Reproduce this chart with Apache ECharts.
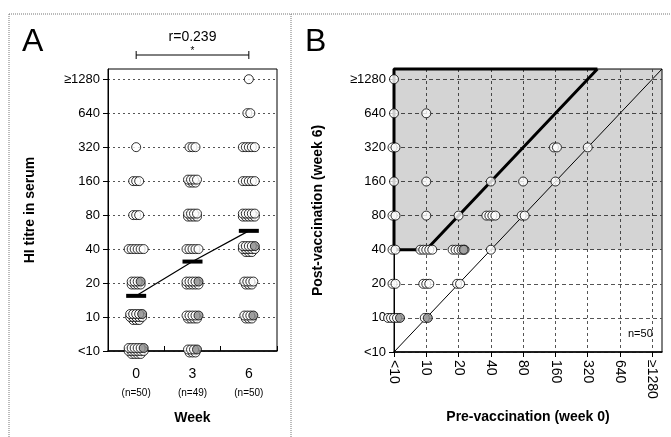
<!DOCTYPE html>
<html>
<head>
<meta charset="utf-8">
<script src="https://cdn.jsdelivr.net/npm/echarts@6/dist/echarts.min.js"></script>
<style>
  html, body { margin: 0; padding: 0; background: #fff; }
  #chart { width: 671px; height: 437px; }
</style>
</head>
<body>
<div id="chart"></div>
<script>
// titre levels, index 0 = "<10" ... index 8 = ">=1280"
const titreLabels = ["<10", "10", "20", "40", "80", "160", "320", "640", "≥1280"];
const weeks = ["0", "3", "6"];
const weekN = ["(n=50)", "(n=49)", "(n=50)"];

// panel A: subjects per titre level
const week0Counts = [16, 13, 8, 6, 3, 3, 1, 0, 0];
const week3Counts = [7, 9, 10, 5, 8, 7, 3, 0, 0];
const week6Counts = [0, 7, 7, 13, 10, 5, 5, 2, 1];
const grayLevels = [[0, 1, 2], [0, 1, 2], [1, 3]];
const geoMeanTitre = [15.4, 31, 58];
const rValue = "r=0.239";

// panel B: [pre level, post level, subjects]
const pairs = [
  [0, 8, 1], [0, 7, 1], [1, 7, 1], [0, 6, 2], [5, 6, 2], [6, 6, 1],
  [0, 5, 1], [1, 5, 1], [3, 5, 1], [4, 5, 1], [5, 5, 1],
  [0, 4, 2], [1, 4, 1], [2, 4, 1], [3, 4, 4], [4, 4, 2],
  [0, 3, 2], [1, 3, 5], [2, 3, 5], [3, 3, 1],
  [0, 2, 2], [1, 2, 3], [2, 2, 2],
  [0, 1, 5], [1, 1, 2]
];
const seroBoundary = [[6.3, 8.3], [0, 8.3], [0, 3], [1, 3], [6.3, 8.3]];
const identityLine = [[0, 0], [8.3, 8.3]];
const axisMax = 8.3;

const GRAY = "#8c8c8c";
const FONT = "Liberation Sans, Arial, sans-serif";

function clusterData(x, counts, grays) {
  const out = [];
  counts.forEach((n, lvl) => {
    if (!n) return;
    const nRows = Math.ceil(n / 6);
    const perRow = Math.ceil(n / nRows);
    const rows = [];
    for (let i = 0; i < n; i += perRow) rows.push(Math.min(perRow, n - i));
    // lower rows first so the top row sits in front
    for (let r = rows.length - 1; r >= 0; r--) {
      const k = rows[r];
      for (let j = 0; j < k; j++) {
        const gray = r === 0 && j === k - 1 && grays.includes(lvl);
        out.push({
          value: [x, lvl],
          symbolOffset: [(j - (k - 1) / 2) * 3, (r - (rows.length - 1) / 2) * 3],
          itemStyle: gray ? { color: GRAY } : undefined,
        });
      }
    }
  });
  return out;
}

const scatterA = [
  ...clusterData(0, week0Counts, grayLevels[0]),
  ...clusterData(1, week3Counts, grayLevels[1]),
  ...clusterData(2, week6Counts, grayLevels[2]),
];

const scatterB = [];
pairs.forEach(([pre, post, c]) => {
  for (let j = 0; j < c; j++) {
    const gray = c > 1 && j === c - 1 && post <= 1;
    scatterB.push({
      value: [pre, post],
      symbolOffset: [(j - (c - 1) / 2) * 3, 0],
      itemStyle: gray ? { color: GRAY } : undefined,
    });
  }
});
scatterB.push({ value: [2, 3], symbolOffset: [5, 0], itemStyle: { color: GRAY } });

const levelTicks = titreLabels.map((_, i) => i);

function yAxisCfg(gridIndex, name, gap, splitType) {
  return {
    gridIndex, type: "value", min: 0, max: axisMax, interval: 1,
    name, nameLocation: "middle", nameGap: gap,
    nameTextStyle: { color: "#000", fontSize: 14, fontWeight: "bold", fontFamily: FONT },
    axisLine: { show: true, lineStyle: { color: "#000", width: 1 } },
    axisTick: { show: true, length: 5, customValues: levelTicks, lineStyle: { color: "#000" } },
    axisLabel: {
      customValues: levelTicks,
      formatter: (v) => (Number.isInteger(v) ? titreLabels[v] : ""),
      color: "#000", fontSize: 13, margin: 8, fontFamily: FONT,
    },
    splitLine: { show: true, lineStyle: { color: "#555", type: splitType, width: 1 } },
  };
}

const chart = echarts.init(document.getElementById("chart"));

const option = {
  animation: false,
  backgroundColor: "#fff",
  textStyle: { fontFamily: FONT },
  grid: [
    { left: 108, right: 394, top: 69, bottom: 86, show: true, borderColor: "#000", borderWidth: 1 },
    { left: 394, right: 9, top: 69, bottom: 85, show: true, borderColor: "#000", borderWidth: 1 },
  ],
  xAxis: [
    {
      gridIndex: 0, type: "category", data: weeks, boundaryGap: true,
      name: "Week", nameLocation: "middle", nameGap: 60,
      nameTextStyle: { color: "#000", fontSize: 14, fontWeight: "bold", fontFamily: FONT },
      axisLine: { lineStyle: { color: "#000", width: 1.5 } },
      axisTick: { show: true, inside: true, length: 5, lineStyle: { color: "#000" } },
      axisLabel: {
        interval: 0, margin: 12, color: "#000",
        formatter: (v, i) => `{a|${v}}\n{b|${weekN[i]}}`,
        rich: {
          a: { fontSize: 14, color: "#000", fontFamily: FONT, lineHeight: 22 },
          b: { fontSize: 10, color: "#000", fontFamily: FONT, lineHeight: 16 },
        },
      },
      splitLine: { show: false },
    },
    {
      gridIndex: 1, type: "value", min: 0, max: axisMax, interval: 1,
      name: "Pre-vaccination (week 0)", nameLocation: "middle", nameGap: 58,
      nameTextStyle: { color: "#000", fontSize: 14, fontWeight: "bold", fontFamily: FONT },
      axisLine: { lineStyle: { color: "#000", width: 1.5 } },
      axisTick: { show: true, length: 5, customValues: levelTicks, lineStyle: { color: "#000" } },
      axisLabel: {
        customValues: levelTicks,
        rotate: -90, margin: 8, color: "#000", fontSize: 14, fontFamily: FONT,
        formatter: (v) => (Number.isInteger(v) ? titreLabels[v] : ""),
      },
      splitLine: { show: true, lineStyle: { color: "#555", type: [3, 3], width: 1 } },
    },
  ],
  yAxis: [
    yAxisCfg(0, "HI titre in serum", 71, [2, 3]),
    yAxisCfg(1, "Post-vaccination (week 6)", 69, [4, 3]),
  ],
  series: [
    {
      type: "scatter", xAxisIndex: 0, yAxisIndex: 0, data: scatterA,
      symbol: "circle", symbolSize: 9,
      itemStyle: { color: "#fff", borderColor: "#000", borderWidth: 1 },
      z: 3,
    },
    {
      type: "line", xAxisIndex: 0, yAxisIndex: 0,
      data: geoMeanTitre.map((t, i) => [i, Math.log2(t / 5)]),
      symbol: "rect", symbolSize: [20, 4], showSymbol: true,
      itemStyle: { color: "#000" },
      lineStyle: { color: "#000", width: 1.2 },
      z: 4,
    },
    {
      type: "line", xAxisIndex: 1, yAxisIndex: 1, data: [],
      markArea: {
        silent: true,
        itemStyle: { color: "rgba(0,0,0,0.17)" },
        data: [[{ coord: [0, 3] }, { coord: [axisMax, axisMax] }]],
      },
    },
    {
      type: "line", xAxisIndex: 1, yAxisIndex: 1, data: identityLine,
      symbol: "none", lineStyle: { color: "#000", width: 1 }, clip: false, z: 2,
    },
    {
      type: "line", xAxisIndex: 1, yAxisIndex: 1, data: seroBoundary,
      symbol: "none", lineStyle: { color: "#000", width: 3 }, clip: false, z: 2,
    },
    {
      type: "scatter", xAxisIndex: 1, yAxisIndex: 1, data: scatterB,
      symbol: "circle", symbolSize: 9, clip: false,
      itemStyle: { color: "#fff", borderColor: "#000", borderWidth: 1 },
      z: 3,
    },
  ],
};

chart.setOption(option);

// bracket over weeks 0 and 6, panel frames, labels
const p0 = chart.convertToPixel({ xAxisIndex: 0, yAxisIndex: 0 }, [0, 0]);
const p2 = chart.convertToPixel({ xAxisIndex: 0, yAxisIndex: 0 }, [2, 0]);
const by = 55;
const frame = { stroke: "#777", lineWidth: 1, lineDash: [1, 1] };

chart.setOption({
  graphic: [
    { type: "line", shape: { x1: 9, y1: 14, x2: 671, y2: 14 }, style: frame, silent: true },
    { type: "line", shape: { x1: 9, y1: 14, x2: 9, y2: 437 }, style: frame, silent: true },
    { type: "line", shape: { x1: 291, y1: 14, x2: 291, y2: 437 }, style: frame, silent: true },
    { type: "text", left: 22, top: 26, style: { text: "A", fontSize: 32, fill: "#000", fontFamily: FONT } },
    { type: "text", left: 305, top: 26, style: { text: "B", fontSize: 32, fill: "#000", fontFamily: FONT } },
    { type: "line", shape: { x1: p0[0], y1: by, x2: p2[0], y2: by }, style: { stroke: "#000", lineWidth: 1 } },
    { type: "line", shape: { x1: p0[0], y1: by - 4, x2: p0[0], y2: by + 4 }, style: { stroke: "#000", lineWidth: 1 } },
    { type: "line", shape: { x1: p2[0], y1: by - 4, x2: p2[0], y2: by + 4 }, style: { stroke: "#000", lineWidth: 1 } },
    {
      type: "text", x: (p0[0] + p2[0]) / 2, y: 37,
      style: { text: rValue, fontSize: 14, fill: "#000", fontFamily: FONT, align: "center", verticalAlign: "middle" },
    },
    {
      type: "text", x: (p0[0] + p2[0]) / 2, y: 51,
      style: { text: "*", fontSize: 10, fill: "#000", fontFamily: FONT, align: "center", verticalAlign: "middle" },
    },
    {
      type: "text", left: 628, top: 328,
      style: { text: "n=50", fontSize: 11, fill: "#000", fontFamily: FONT },
    },
  ],
});
</script>
</body>
</html>
